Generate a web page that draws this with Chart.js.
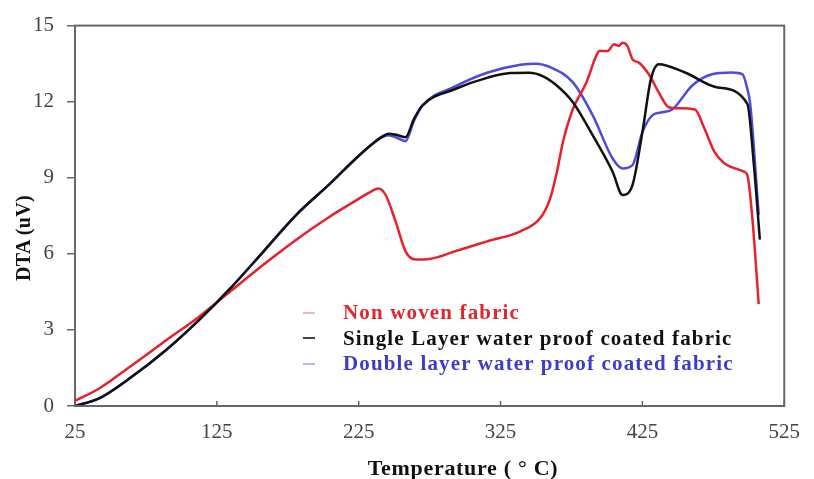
<!DOCTYPE html>
<html><head><meta charset="utf-8">
<script src="https://cdn.jsdelivr.net/npm/chart.js@4/dist/chart.umd.min.js"></script>
<style>
html,body{margin:0;padding:0;background:#fff;}
#wrap{position:relative;width:814px;height:479px;}
.serif{font-family:"Liberation Serif","Times New Roman",serif;font-weight:bold;}
#legend{position:absolute;left:303px;top:300px;font-size:21px;letter-spacing:1.15px;line-height:25.5px;}
.row{display:flex;align-items:center;white-space:nowrap;height:25.5px}
.mk{display:inline-block;width:12px;height:2px;margin-right:28px}
#xt{position:absolute;left:263px;width:400px;top:455px;text-align:center;font-size:22px;letter-spacing:0.7px;line-height:26px;color:#111;white-space:nowrap}
#yt{position:absolute;left:-177px;width:400px;top:225px;text-align:center;font-size:20px;letter-spacing:0.3px;line-height:26px;color:#111;white-space:nowrap;transform:rotate(-90deg);}
</style></head>
<body>
<div id="wrap">
<canvas id="c" width="814" height="479"></canvas>
<div id="legend" class="serif">
  <div class="row"><span class="mk" style="background:#f4b6b8"></span><span style="color:#e0262e">Non woven fabric</span></div>
  <div class="row"><span class="mk" style="background:#444"></span><span style="color:#111">Single Layer water proof coated fabric</span></div>
  <div class="row"><span class="mk" style="background:#b8b8ee"></span><span style="color:#3d3dcc">Double layer water proof coated fabric</span></div>
</div>
<div id="xt" class="serif">Temperature ( ° C)</div>
<div id="yt" class="serif">DTA (uV)</div>
</div>
<script>
const xTicks = [25, 125, 225, 325, 425, 525];
const yTicks = [0, 3, 6, 9, 12, 15];

const singleT = [25, 42, 65, 89, 112, 135, 158, 181, 205, 223, 235, 241, 246, 253, 258, 264, 270, 293, 316, 332, 345, 355, 365, 376, 390, 404, 411, 418, 425, 431, 436.5, 455, 478, 499, 503.6, 507.8];
const singleV = [0, 0.3, 1.15, 2.2, 3.37, 4.67, 6.1, 7.54, 8.78, 9.76, 10.35, 10.6, 10.74, 10.67, 10.6, 11.32, 11.85, 12.5, 12.95, 13.13, 13.14, 13.0, 12.62, 11.98, 10.67, 9.24, 8.32, 8.71, 10.8, 12.89, 13.48, 13.15, 12.56, 11.91, 9.5, 6.56];

const doubleT = [25, 42, 65, 89, 112, 135, 158, 181, 205, 223, 235, 241, 246, 253, 258, 264, 270, 293, 316, 339, 350, 360, 376, 390, 404, 411, 418, 425, 432, 439, 446, 460, 474, 488, 495.6, 499, 501, 507];
const doubleV = [0, 0.3, 1.15, 2.2, 3.37, 4.67, 6.1, 7.54, 8.78, 9.76, 10.35, 10.58, 10.68, 10.55, 10.44, 11.25, 11.85, 12.6, 13.15, 13.46, 13.5, 13.36, 12.76, 11.46, 9.76, 9.37, 9.5, 10.8, 11.46, 11.58, 11.69, 12.63, 13.08, 13.15, 13.08, 12.5, 11.91, 7.54];

const nonWovenT = [25, 42, 65, 89, 112, 135, 158, 181, 205, 223, 232, 239, 244, 251, 258, 265, 275, 293, 316, 339, 353, 360, 365, 369, 376, 385.5, 392.4, 394.7, 400.5, 405, 408.6, 411, 414.4, 418, 422.5, 429.5, 436.5, 443.5, 450, 462, 468.8, 475.8, 483, 496.7, 499, 502.5, 507];
const nonWovenV = [0.2, 0.69, 1.6, 2.58, 3.5, 4.54, 5.58, 6.56, 7.48, 8.1, 8.4, 8.58, 8.32, 7.28, 6.1, 5.78, 5.8, 6.1, 6.5, 6.89, 7.41, 8.19, 9.3, 10.41, 11.71, 12.76, 13.8, 14.0, 14.0, 14.26, 14.2, 14.32, 14.2, 13.67, 13.54, 13.08, 12.37, 11.78, 11.74, 11.69, 10.93, 10.02, 9.56, 9.24, 9.1, 7.41, 4.02];

const pts = (t, v) => t.map((x, i) => ({x: x, y: v[i]}));

const frame = {
  id: 'frame',
  afterDraw(chart) {
    const {ctx, chartArea: a, scales} = chart;
    ctx.save();
    ctx.strokeStyle = '#666';
    ctx.lineWidth = 2;
    ctx.strokeRect(a.left, a.top, a.right - a.left, a.bottom - a.top);
    ctx.lineWidth = 1.5;
    xTicks.forEach(v => {
      const px = scales.x.getPixelForValue(v);
      ctx.beginPath();
      ctx.moveTo(px, a.bottom);
      ctx.lineTo(px, a.bottom - 5);
      ctx.stroke();
    });
    ctx.restore();
  }
};

const serif = '"Liberation Serif","Times New Roman",serif';

new Chart(document.getElementById('c'), {
  type: 'line',
  data: {
    datasets: [
      {label: 'Single Layer water proof coated fabric', data: pts(singleT, singleV), borderColor: '#111111'},
      {label: 'Non woven fabric', data: pts(nonWovenT, nonWovenV), borderColor: '#e8202a'},
      {label: 'Double layer water proof coated fabric', data: pts(doubleT, doubleV), borderColor: '#4b4be0'}
    ]
  },
  options: {
    responsive: false,
    animation: false,
    devicePixelRatio: 1,
    layout: {padding: {top: 23, right: 20, left: 0, bottom: 0}},
    elements: {
      point: {radius: 0},
      line: {borderWidth: 2.5, cubicInterpolationMode: 'monotone', fill: false}
    },
    plugins: {legend: {display: false}, tooltip: {enabled: false}},
    scales: {
      x: {
        type: 'linear', min: 25, max: 525,
        afterFit(s) { s.height = 73; },
        afterBuildTicks(s) { s.ticks = xTicks.map(v => ({value: v})); },
        grid: {display: false, drawTicks: false},
        border: {display: true, color: '#666', width: 2},
        ticks: {padding: 14, color: '#444', font: {family: serif, size: 21}},
        title: {display: false}
      },
      y: {
        type: 'linear', min: 0, max: 15,
        afterFit(s) { s.width = 75; },
        afterBuildTicks(s) { s.ticks = yTicks.map(v => ({value: v})); },
        grid: {display: true, drawOnChartArea: false, drawTicks: true, tickLength: 8, color: '#666', lineWidth: 1.5},
        border: {display: true, color: '#666', width: 2},
        ticks: {padding: 13, color: '#444', font: {family: serif, size: 21}},
        title: {display: false}
      }
    }
  },
  plugins: [frame]
});
</script>
</body></html>
